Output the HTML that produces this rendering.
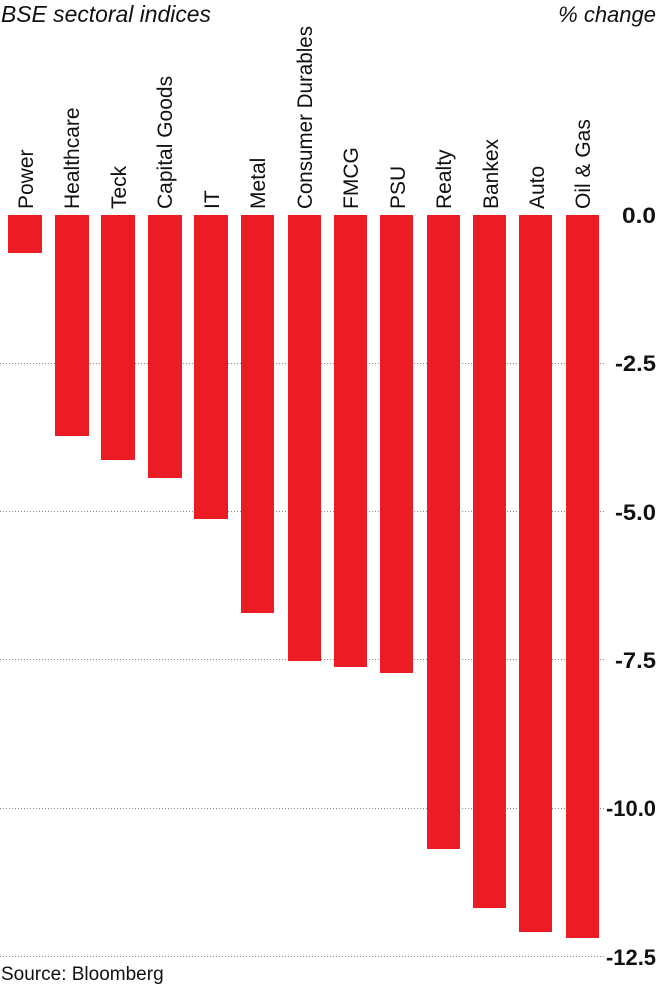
<!DOCTYPE html>
<html><head><meta charset="utf-8"><style>
body{margin:0;background:#fff;}
svg text{font-family:"Liberation Sans",sans-serif;fill:#111;}
</style></head><body>
<svg width="660" height="986" xmlns="http://www.w3.org/2000/svg">
<text x="1" y="22" font-size="23" font-style="italic" textLength="210" lengthAdjust="spacingAndGlyphs">BSE sectoral indices</text>
<text x="656" y="22" font-size="22" font-style="italic" text-anchor="end">% change</text>
<g stroke="#888" stroke-width="1" stroke-dasharray="1,2">
<line x1="0" x2="606" y1="363.5" y2="363.5"/>
<line x1="0" x2="606" y1="511.5" y2="511.5"/>
<line x1="0" x2="606" y1="659.5" y2="659.5"/>
<line x1="0" x2="606" y1="808.5" y2="808.5"/>
<line x1="0" x2="606" y1="956.5" y2="956.5"/>
</g>
<g fill="#ec1c24">
<rect x="8" y="215" width="34" height="38"/>
<rect x="55" y="215" width="34" height="221"/>
<rect x="101" y="215" width="34" height="245"/>
<rect x="148" y="215" width="34" height="263"/>
<rect x="194" y="215" width="34" height="304"/>
<rect x="241" y="215" width="33" height="398"/>
<rect x="288" y="215" width="33" height="446"/>
<rect x="334" y="215" width="33" height="452"/>
<rect x="380" y="215" width="33" height="458"/>
<rect x="427" y="215" width="33" height="634"/>
<rect x="473" y="215" width="33" height="693"/>
<rect x="519" y="215" width="33" height="717"/>
<rect x="566" y="215" width="33" height="723"/>
</g>
<g font-size="21" text-anchor="start">
<text transform="translate(33,209) rotate(-90)">Power</text>
<text transform="translate(79,209) rotate(-90)">Healthcare</text>
<text transform="translate(126,209) rotate(-90)">Teck</text>
<text transform="translate(172,209) rotate(-90)">Capital Goods</text>
<text transform="translate(219,209) rotate(-90)">IT</text>
<text transform="translate(265,209) rotate(-90)">Metal</text>
<text transform="translate(312,209) rotate(-90)" textLength="183" lengthAdjust="spacingAndGlyphs">Consumer Durables</text>
<text transform="translate(358,209) rotate(-90)">FMCG</text>
<text transform="translate(405,209) rotate(-90)">PSU</text>
<text transform="translate(451,209) rotate(-90)">Realty</text>
<text transform="translate(498,209) rotate(-90)">Bankex</text>
<text transform="translate(544,209) rotate(-90)">Auto</text>
<text transform="translate(590,209) rotate(-90)">Oil &amp; Gas</text>
</g>
<g font-size="22" text-anchor="end" font-weight="bold">
<text x="656" y="223" textLength="34" lengthAdjust="spacingAndGlyphs">0.0</text>
<text x="656" y="371" textLength="41" lengthAdjust="spacingAndGlyphs">-2.5</text>
<text x="656" y="520" textLength="41" lengthAdjust="spacingAndGlyphs">-5.0</text>
<text x="656" y="668" textLength="41" lengthAdjust="spacingAndGlyphs">-7.5</text>
<text x="656" y="816" textLength="50" lengthAdjust="spacingAndGlyphs">-10.0</text>
<text x="656" y="965" textLength="50" lengthAdjust="spacingAndGlyphs">-12.5</text>
</g>
<text x="1" y="980" font-size="19">Source: Bloomberg</text>
</svg>
</body></html>
